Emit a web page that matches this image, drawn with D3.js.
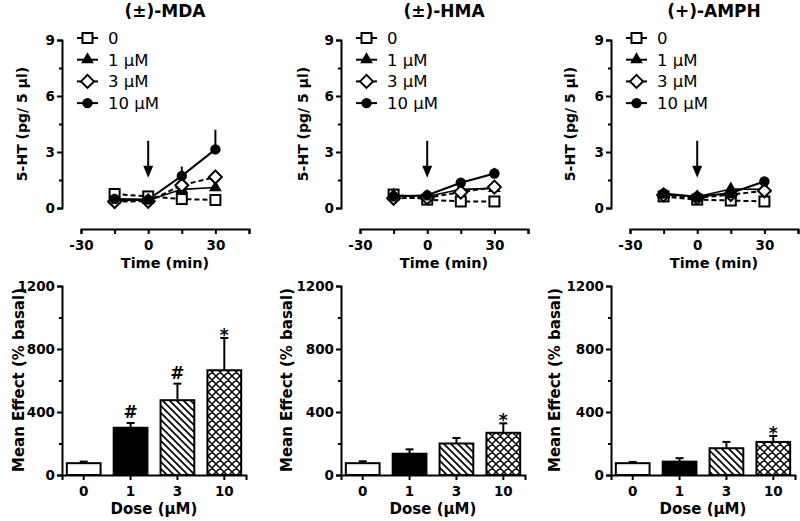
<!DOCTYPE html>
<html><head><meta charset="utf-8">
<script src="https://cdn.jsdelivr.net/npm/d3@7"></script>
<style>
body{margin:0;background:#fff;}
svg{display:block;}
</style></head>
<body>
<svg id="chart" width="800" height="521"></svg>
<script>
// ---------- DATA ----------
const panelTitles = ["(\u00b1)-MDA", "(\u00b1)-HMA", "(+)-AMPH"];
const timePoints = [-15, 0, 15, 30];
const seriesNames = ["0", "1 \u00b5M", "3 \u00b5M", "10 \u00b5M"];
const timeTicks = [-30, -15, 0, 15, 30, 45];
const timeLabels = [-30, 0, 30];
const htTicks = [0, 3, 6, 9];
const htMinor = [1.5, 4.5, 7.5];

const mdaVeh = [0.75, 0.62, 0.48, 0.43];
const mda1   = [0.40, 0.42, 1.00, 1.10];
const mda3   = [0.35, 0.36, 1.22, 1.66];
const mda10  = [0.48, 0.45, 1.72, 3.14];
const mda10Err = [0.05, 0.05, 0.50, 1.05];

const hmaVeh = [0.72, 0.45, 0.35, 0.35];
const hma1   = [0.70, 0.62, 1.00, 1.05];
const hma3   = [0.52, 0.55, 0.85, 1.12];
const hma10  = [0.62, 0.68, 1.35, 1.85];
const hma10Err = [0.05, 0.05, 0.15, 0.30];

const amphVeh = [0.62, 0.45, 0.40, 0.35];
const amph1   = [0.72, 0.60, 1.02, 1.00];
const amph3   = [0.70, 0.55, 0.72, 0.92];
const amph10  = [0.78, 0.60, 0.80, 1.42];
const amph10Err = [0.05, 0.05, 0.10, 0.15];

const doses = ["0", "1", "3", "10"];
const effTicks = [0, 400, 800, 1200];
const effMinor = [200, 600, 1000];
const mdaBar = [75, 300, 475, 665];
const mdaBarErr = [10, 30, 105, 205];
const mdaSig = ["", "#", "#", "*"];
const hmaBar = [75, 135, 200, 268];
const hmaBarErr = [12, 28, 35, 60];
const hmaSig = ["", "", "", "*"];
const amphBar = [75, 85, 170, 210];
const amphBarErr = [8, 22, 40, 38];
const amphSig = ["", "", "", "*"];

const timeSeries = [
  [mdaVeh, mda1, mda3, mda10],
  [hmaVeh, hma1, hma3, hma10],
  [amphVeh, amph1, amph3, amph10]
];
const timeErr = [mda10Err, hma10Err, amph10Err];
const barVals = [mdaBar, hmaBar, amphBar];
const barErrs = [mdaBarErr, hmaBarErr, amphBarErr];
const barSigs = [mdaSig, hmaSig, amphSig];

// ---------- LAYOUT ----------
const axisX = [62, 341, 611];
const topTitleX = [22, 303, 570];
const botTitleX = [19, 287, 555];
const FONT = '"DejaVu Sans", sans-serif';

const svg = d3.select("#chart");
svg.append("rect").attr("width", 800).attr("height", 521).attr("fill", "#fff");

const defs = svg.append("defs");
const hatch = defs.append("pattern").attr("id", "hatch").attr("patternUnits", "userSpaceOnUse")
  .attr("width", 7).attr("height", 7);
hatch.append("rect").attr("width", 7).attr("height", 7).attr("fill", "#fff");
hatch.append("path").attr("d", "M0,0L7,7M-1,6L1,8M6,-1L8,1").attr("stroke", "#000").attr("stroke-width", 1.7);
const cross = defs.append("pattern").attr("id", "cross").attr("patternUnits", "userSpaceOnUse")
  .attr("width", 8).attr("height", 8);
cross.append("rect").attr("width", 8).attr("height", 8).attr("fill", "#fff");
cross.append("path").attr("d", "M0,0L8,8M-1,7L1,9M7,-1L9,1M8,0L0,8M-1,1L1,-1M7,9L9,7").attr("stroke", "#000").attr("stroke-width", 1.5);

const barFills = ["#fff", "#000", "url(#hatch)", "url(#cross)"];
const dashes = ["5,3", null, "5,3", null];

function styleAxis(g) {
  g.selectAll("path,line").attr("stroke", "#000").attr("stroke-width", 2);
  g.selectAll("text").attr("fill", "#000").attr("font-family", FONT)
    .attr("font-size", "13.5px").attr("font-weight", "bold");
}

function drawMarker(g, i, x, y) {
  if (i === 0) {
    g.append("rect").attr("x", x - 5).attr("y", y - 5).attr("width", 10).attr("height", 10)
      .attr("fill", "#fff").attr("stroke", "#000").attr("stroke-width", 2);
  } else if (i === 1) {
    g.append("path").attr("d", d3.symbol(d3.symbolTriangle, 70)()).attr("transform", `translate(${x},${y})`)
      .attr("fill", "#000");
  } else if (i === 2) {
    g.append("path").attr("d", `M${x},${y-6.5}L${x+6.5},${y}L${x},${y+6.5}L${x-6.5},${y}Z`)
      .attr("fill", "#fff").attr("stroke", "#000").attr("stroke-width", 2);
  } else {
    g.append("circle").attr("cx", x).attr("cy", y).attr("r", 5.2).attr("fill", "#000");
  }
}

for (let p = 0; p < 3; p++) {
  const ax = axisX[p];
  // ===== top: time course =====
  const x = d3.scaleLinear().domain([-30, 45]).range([ax + 19, ax + 187]);
  const y = d3.scaleLinear().domain([0, 9]).range([208, 40]);

  svg.append("g").attr("transform", "translate(0,229)")
    .call(d3.axisBottom(x).tickValues(timeTicks).tickSizeOuter(0).tickSize(5)
      .tickFormat(d => timeLabels.includes(d) ? d : ""))
    .call(styleAxis)
    .call(g => g.selectAll("text").attr("y", 21).attr("dy", null));
  svg.append("g").attr("transform", `translate(${ax},0)`)
    .call(d3.axisLeft(y).tickValues(htTicks).tickSizeOuter(0).tickSize(5).tickPadding(2))
    .call(styleAxis);
  svg.append("g").attr("transform", `translate(${ax},0)`)
    .call(d3.axisLeft(y).tickValues(htMinor).tickSizeOuter(0).tickSize(3).tickFormat(""))
    .call(styleAxis)
    .call(g => g.select(".domain").remove());

  svg.append("text").attr("x", x(7.5)).attr("y", 17).attr("text-anchor", "middle")
    .attr("font-family", FONT).attr("font-weight", "bold").attr("font-size", 17).text(panelTitles[p]);
  svg.append("text").attr("x", x(7.5)).attr("y", 268).attr("text-anchor", "middle")
    .attr("font-family", FONT).attr("font-weight", "bold").attr("font-size", 14.5).text("Time (min)");
  svg.append("text").attr("transform", `translate(${topTitleX[p] + 5},124) rotate(-90)`).attr("text-anchor", "middle")
    .attr("font-family", FONT).attr("font-weight", "bold").attr("font-size", 14).text("5-HT (pg/ 5 \u00b5l)");

  // arrow at time 0
  const arrowTop = y(3.6), arrowTip = y(1.62);
  svg.append("line").attr("x1", x(0)).attr("x2", x(0)).attr("y1", arrowTop).attr("y2", arrowTip - 8)
    .attr("stroke", "#000").attr("stroke-width", 2);
  svg.append("path").attr("d", `M${x(0)-5},${arrowTip-12}L${x(0)+5},${arrowTip-12}L${x(0)},${arrowTip}Z`).attr("fill", "#000");

  const series = timeSeries[p];
  const line = d3.line().x((d, i) => x(timePoints[i])).y(d => y(d));
  series.forEach((s, i) => {
    svg.append("path").datum(s).attr("d", line).attr("fill", "none").attr("stroke", "#000")
      .attr("stroke-width", i === 1 ? 1.6 : 2).attr("stroke-dasharray", dashes[i]);
  });
  // error bars for 10 µM
  const err = timeErr[p];
  series[3].forEach((v, i) => {
    svg.append("line").attr("x1", x(timePoints[i])).attr("x2", x(timePoints[i]))
      .attr("y1", y(v)).attr("y2", y(v + err[i])).attr("stroke", "#000").attr("stroke-width", 2);
  });
  const mg = svg.append("g");
  series.forEach((s, i) => s.forEach((v, j) => drawMarker(mg, i, x(timePoints[j]), y(v))));

  // legend
  seriesNames.forEach((n, i) => {
    const ly = 38 + i * 21.7;
    svg.append("line").attr("x1", ax + 15).attr("x2", ax + 36).attr("y1", ly).attr("y2", ly)
      .attr("stroke", "#000").attr("stroke-width", 2);
    drawMarker(svg, i, ax + 25.5, ly);
    svg.append("text").attr("x", ax + 46).attr("y", ly).attr("dy", "0.36em")
      .attr("font-family", FONT).attr("font-size", 16.5).text(n);
  });

  // ===== bottom: bars =====
  const xb = d3.scaleBand().domain(doses).range([ax, ax + 184]).paddingInner(0.28).paddingOuter(0.103);
  const yb = d3.scaleLinear().domain([0, 1200]).range([475, 286]);

  const vals = barVals[p], errs = barErrs[p], sigs = barSigs[p];
  doses.forEach((d, i) => {
    const cx = xb(d) + xb.bandwidth() / 2;
    svg.append("line").attr("x1", cx).attr("x2", cx).attr("y1", yb(vals[i]))
      .attr("y2", yb(vals[i] + errs[i])).attr("stroke", "#000").attr("stroke-width", 2);
    svg.append("line").attr("x1", cx - 4).attr("x2", cx + 4).attr("y1", yb(vals[i] + errs[i]))
      .attr("y2", yb(vals[i] + errs[i])).attr("stroke", "#000").attr("stroke-width", 2);
    svg.append("rect").attr("x", xb(d)).attr("width", xb.bandwidth())
      .attr("y", yb(vals[i])).attr("height", yb(0) - yb(vals[i]))
      .attr("fill", barFills[i]).attr("stroke", "#000").attr("stroke-width", 2);
    if (sigs[i]) {
      const top = yb(vals[i] + errs[i]);
      svg.append("text").attr("x", cx).attr("y", sigs[i] === "*" ? top + 3 : top - 5)
        .attr("text-anchor", "middle").attr("font-family", FONT).attr("font-weight", "bold")
        .attr("font-size", 17).text(sigs[i]);
    }
  });

  svg.append("g").attr("transform", "translate(0,475)")
    .call(d3.axisBottom(xb).tickSizeOuter(0).tickSize(5))
    .call(styleAxis)
    .call(g => g.selectAll("text").attr("y", 21).attr("dy", null));
  svg.append("g").attr("transform", `translate(${ax},0)`)
    .call(d3.axisLeft(yb).tickValues(effTicks).tickSizeOuter(0).tickSize(5).tickPadding(2).tickFormat(d3.format("d")))
    .call(styleAxis);
  svg.append("g").attr("transform", `translate(${ax},0)`)
    .call(d3.axisLeft(yb).tickValues(effMinor).tickSizeOuter(0).tickSize(3).tickFormat(""))
    .call(styleAxis)
    .call(g => g.select(".domain").remove());

  svg.append("text").attr("x", ax + 92).attr("y", 514).attr("text-anchor", "middle")
    .attr("font-family", FONT).attr("font-weight", "bold").attr("font-size", 15).text("Dose (\u00b5M)");
  svg.append("text").attr("transform", `translate(${botTitleX[p] + 5},380) rotate(-90)`).attr("text-anchor", "middle")
    .attr("font-family", FONT).attr("font-weight", "bold").attr("font-size", 15).text("Mean Effect (% basal)");
}
</script>
</body></html>
